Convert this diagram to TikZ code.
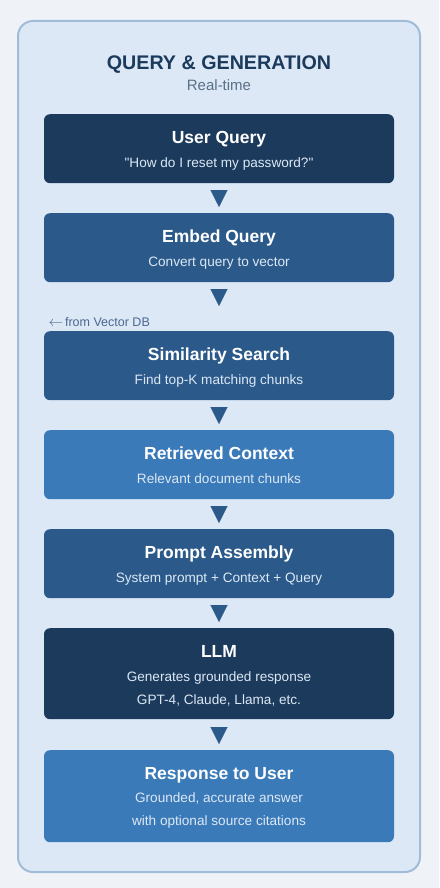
\documentclass[tikz,border=0pt]{standalone}
\usepackage{fontspec}
\setmainfont{Liberation Sans}[Ligatures=TeXOff]
\usetikzlibrary{arrows.meta}
\definecolor{pagebg}{HTML}{EFF3F8}
\definecolor{panelfill}{HTML}{DCE8F6}
\definecolor{panelline}{HTML}{A0BCD8}
\definecolor{cdark}{HTML}{1B3A5C}
\definecolor{cmid}{HTML}{2B5A8A}
\definecolor{clight}{HTML}{3A7AB8}
\definecolor{subtext}{HTML}{DCE8F5}
\definecolor{greytext}{HTML}{5A7088}
\definecolor{notetext}{HTML}{4A6890}
\tikzset{
  stepbox/.style={rectangle, rounded corners=6pt, minimum width=350pt, inner sep=0pt, anchor=north},
  boxtitle/.style={anchor=base, text=white, font=\fontsize{17.5}{20}\selectfont\bfseries, inner sep=0pt},
  boxsub/.style={anchor=base, text=subtext, font=\fontsize{13.6}{16}\selectfont, inner sep=0pt},
  flowtip/.style={draw=cmid, fill=cmid, line width=0.1pt, shorten <=7pt, shorten >=6pt,
    -{Triangle[width=17pt,length=17pt]}},
}
\begin{document}
\begin{tikzpicture}[x=1pt,y=-1pt]
\fill[pagebg] (0,0) rectangle (439,888);
\useasboundingbox (0,0) rectangle (439,888);
\draw[panelline, fill=panelfill, line width=2pt, rounded corners=15pt] (18,21) rectangle (420,872);
\node[anchor=base, text=cdark, font=\fontsize{19.7}{22}\selectfont\bfseries, inner sep=0pt] (title) at (219,70) {QUERY \& GENERATION};
\node[anchor=base, text=greytext, font=\fontsize{15}{18}\selectfont, inner sep=0pt] (subtitle) at (219,91) {Real-time};

\node[stepbox, fill=cdark, minimum height=69pt] (b1) at (219,114) {};
\node[boxtitle] (b1t) at (219,143) {User Query};
\node[boxsub] (b1s) at (219,167) {"How do I reset my password?"};

\node[stepbox, fill=cmid, minimum height=69pt] (b2) at (219,213) {};
\node[boxtitle] (b2t) at (219,242) {Embed Query};
\node[boxsub] (b2s) at (219,266) {Convert query to vector};

\node[anchor=base west, text=notetext, font=\fontsize{12.5}{15}\selectfont, inner sep=0pt] (note) at (48.5,326) {{\fontsize{15}{15}\selectfont$\leftarrow$}\kern2pt from Vector DB};

\node[stepbox, fill=cmid, minimum height=69pt] (b3) at (219,331) {};
\node[boxtitle] (b3t) at (219,360) {Similarity Search};
\node[boxsub] (b3s) at (219,384) {Find top-K matching chunks};

\node[stepbox, fill=clight, minimum height=69pt] (b4) at (219,430) {};
\node[boxtitle] (b4t) at (219,459) {Retrieved Context};
\node[boxsub] (b4s) at (219,483) {Relevant document chunks};

\node[stepbox, fill=cmid, minimum height=69pt] (b5) at (219,529) {};
\node[boxtitle] (b5t) at (219,558) {Prompt Assembly};
\node[boxsub] (b5s) at (219,582) {System prompt + Context + Query};

\node[stepbox, fill=cdark, minimum height=91pt] (b6) at (219,628) {};
\node[boxtitle] (b6t) at (219,657) {LLM};
\node[boxsub] (b6s) at (219,681) {Generates grounded response};
\node[boxsub] (b6u) at (219,704) {GPT-4, Claude, Llama, etc.};

\node[stepbox, fill=clight, minimum height=92pt] (b7) at (219,750) {};
\node[boxtitle] (b7t) at (219,779) {Response to User};
\node[boxsub] (b7s) at (219,802) {Grounded, accurate answer};
\node[boxsub] (b7u) at (219,825) {with optional source citations};

\draw[flowtip] (b1.south) -- (b2.north);
\draw[flowtip, shorten >=25pt] (b2.south) -- (b3.north);
\draw[flowtip] (b3.south) -- (b4.north);
\draw[flowtip] (b4.south) -- (b5.north);
\draw[flowtip] (b5.south) -- (b6.north);
\draw[flowtip, shorten <=8pt] (b6.south) -- (b7.north);
\end{tikzpicture}
\end{document}
